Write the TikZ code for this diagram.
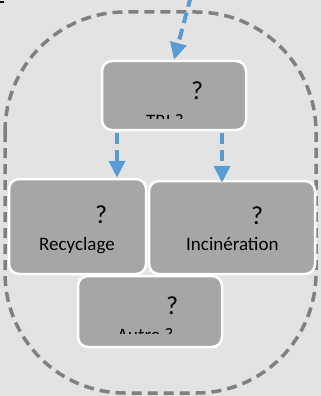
\documentclass[tikz,border=0pt]{standalone}
\usepackage{fontspec}
\setmainfont{Carlito}
\usetikzlibrary{arrows.meta}
\definecolor{bg}{HTML}{E3E3E3}
\definecolor{boxgray}{HTML}{A6A6A6}
\definecolor{flowblue}{HTML}{5B9BD5}
\definecolor{ringgray}{HTML}{808080}
\begin{document}
\begin{tikzpicture}[x=1pt,y=-1pt,
  box/.style={draw=white, fill=boxgray, line width=2.5pt, rounded corners=10pt,
    inner sep=0pt, shape=rectangle},
  flow/.style={draw=flowblue, line width=4pt, dash pattern=on 11pt off 6pt,
    -{Triangle[length=17pt,width=16pt]}},
  ring/.style={draw=ringgray, line width=3.5pt, dash pattern=on 10pt off 6pt},
  lbl/.style={font=\fontsize{19}{23}\selectfont, anchor=base west,
    inner sep=0pt, text=black},
  qmark/.style={lbl, font=\fontsize{26}{31}\selectfont}]

% canvas
\fill[bg] (0,0) rectangle (321,396);
\useasboundingbox (0,0) rectangle (321,396);
\fill[black] (0,1) rectangle (3.5,3);

% dashed boundary around the treatment options
\draw[ring] (5,132) arc[start angle=180, end angle=270, radius=120]
  -- (196,12) arc[start angle=270, end angle=360, radius=120]
  -- (316,273) arc[start angle=0, end angle=90, radius=120]
  -- (125,393) arc[start angle=90, end angle=180, radius=120] -- cycle;

% boxes
\node[box, minimum width=144pt, minimum height=69pt] (tri) at (174,95.5) {};
\node[box, minimum width=137pt, minimum height=95pt] (recy) at (77.5,226.5) {};
\node[box, minimum width=166pt, minimum height=93pt] (inci) at (232,227.5) {};
\node[box, minimum width=144pt, minimum height=71pt] (autre) at (150,311.5) {};

% labels
\node[qmark] (triq) at (191,99) {?};
\begin{scope}
  \clip (0,0) rectangle (321,118);
  \node[lbl] (tritxt) at (146,127.5) {TRI ?};
\end{scope}
\node[qmark] (recyq) at (95,223) {?};
\node[lbl] (recytxt) at (39,250) {Recyclage};
\node[qmark] (inciq) at (251,224) {?};
\node[lbl] (incitxt) at (186,250) {Incinération};
\node[qmark] (autreq) at (166,314) {?};
\begin{scope}
  \clip (0,0) rectangle (321,333.5);
  \node[lbl] (autretxt) at (117,341.5) {Autre ?};
\end{scope}

% flows
\coordinate (src) at (191,-4);
\coordinate (l1) at (117,133);
\coordinate (r1) at (222,133);
\draw[flow] (src) -- (tri.north);
\draw[flow] (l1) -- (l1 |- recy.north);
\draw[flow] (r1) -- ([yshift=-3pt]r1 |- inci.north);
\end{tikzpicture}
\end{document}
